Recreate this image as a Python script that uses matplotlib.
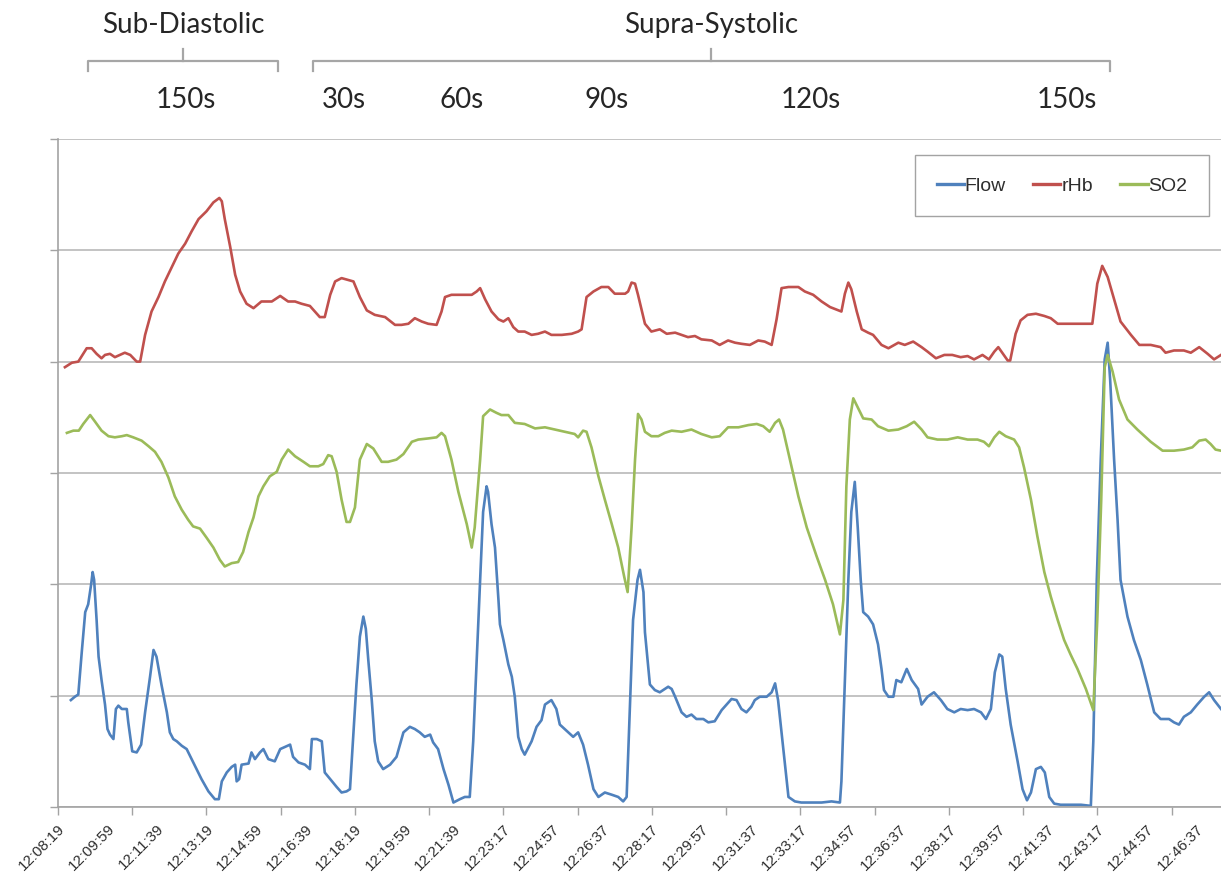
import matplotlib
matplotlib.use("Agg")
import matplotlib.pyplot as plt
import matplotlib.transforms as mtransforms
import numpy as np

# time axis: one sample per second from the start of the recording (12:08:19)
time_labels = [
    "12:08:19", "12:09:59", "12:11:39", "12:13:19", "12:14:59", "12:16:39",
    "12:18:19", "12:19:59", "12:21:39", "12:23:17", "12:24:57", "12:26:37",
    "12:28:17", "12:29:57", "12:31:37", "12:33:17", "12:34:57", "12:36:37",
    "12:38:17", "12:39:57", "12:41:37", "12:43:17", "12:44:57", "12:46:37",
]

# rHb trace
rhb_t = [14, 28, 41, 58, 68, 78, 88, 95, 105, 115, 125, 135, 146, 159, 166, 176, 189, 203, 216, 230,
         243, 257, 270, 284, 300, 314, 326, 331, 337, 348, 358, 368, 381, 395, 411, 432, 449, 465, 479, 492,
         509, 519, 529, 539, 550, 560, 573,
         597, 610, 624, 640, 661, 681, 694, 708, 721, 735, 748, 765, 775, 782, 795, 816, 836, 846, 853, 863,
         876, 890, 900, 910, 920, 930, 943, 957, 970, 984, 997, 1018, 1038, 1051, 1058, 1068, 1082, 1098,
         1112, 1125, 1146, 1152, 1159, 1166,
         1172, 1186, 1199, 1216, 1230, 1247, 1260, 1273, 1287, 1300, 1321, 1337, 1354, 1368, 1381, 1398,
         1415, 1428, 1442, 1452, 1462, 1476, 1496, 1509, 1526, 1543, 1560, 1577, 1583, 1590, 1597, 1603,
         1614, 1624, 1637, 1647, 1664, 1678, 1698, 1711, 1728, 1745,
         1757, 1774, 1791, 1807, 1824, 1838, 1851, 1868, 1881, 1892, 1900, 1908, 1919, 1924, 1935, 1945,
         1959, 1976, 1993, 2006, 2020, 2040, 2060, 2090, 2100, 2110, 2121, 2134, 2147, 2168, 2185, 2208,
         2228, 2238, 2255, 2275, 2289, 2306, 2323, 2336, 2350]
rhb_v = [3.95, 3.99, 4.00, 4.12, 4.12, 4.07, 4.03, 4.06, 4.07, 4.04, 4.06, 4.08, 4.06, 4.00, 4.00, 4.24,
         4.45, 4.58, 4.72, 4.85, 4.97, 5.06, 5.17, 5.28, 5.35, 5.43, 5.47, 5.44, 5.28, 5.03, 4.78, 4.63,
         4.52, 4.48, 4.54, 4.54, 4.59, 4.54, 4.54, 4.52, 4.50, 4.45, 4.40, 4.40, 4.60, 4.72, 4.75,
         4.72, 4.58, 4.46, 4.42, 4.40, 4.33, 4.33, 4.34, 4.39, 4.36, 4.34, 4.33, 4.45, 4.58, 4.60, 4.60,
         4.60, 4.63, 4.66, 4.56, 4.45, 4.38, 4.36, 4.39, 4.31, 4.27, 4.27, 4.24, 4.25, 4.27, 4.24, 4.24,
         4.25, 4.27, 4.29, 4.58, 4.63, 4.67, 4.67, 4.61, 4.61, 4.63, 4.71, 4.70,
         4.60, 4.34, 4.27, 4.29, 4.25, 4.26, 4.24, 4.22, 4.23, 4.20, 4.19, 4.15, 4.19, 4.17, 4.16, 4.15,
         4.19, 4.18, 4.15, 4.38, 4.66, 4.67, 4.67, 4.63, 4.60, 4.54, 4.49, 4.46, 4.45, 4.61, 4.71, 4.65,
         4.45, 4.29, 4.26, 4.24, 4.15, 4.12, 4.17, 4.15, 4.18, 4.13,
         4.09, 4.03, 4.06, 4.06, 4.04, 4.05, 4.02, 4.06, 4.02, 4.09, 4.13, 4.08, 4.01, 4.01, 4.25, 4.37,
         4.42, 4.43, 4.41, 4.39, 4.34, 4.34, 4.34, 4.34, 4.70, 4.86, 4.76, 4.56, 4.36, 4.24, 4.15, 4.15,
         4.13, 4.08, 4.10, 4.10, 4.08, 4.13, 4.07, 4.02, 4.06]

# SO2 trace
so2_t = [18, 31, 42, 51, 65, 75, 88, 102, 115, 129, 139, 152, 169, 183, 196, 209, 223, 236, 250, 263,
         273, 287, 300, 314, 327, 337, 351, 364, 374, 385, 395, 405, 415, 428, 442, 452, 465, 479, 496, 509,
         526, 536, 546, 553, 563, 573, 583,
         590, 600, 610, 624, 637, 654, 667, 684, 698, 715, 728, 748, 765, 775, 782, 795, 809, 826, 836, 842,
         853, 859, 873, 886, 896, 910, 923, 943, 964, 984, 1004, 1024, 1044, 1051, 1061, 1068, 1078, 1092,
         1105, 1119, 1132, 1144, 1151, 1159, 1166, 1172, 1179,
         1186, 1199, 1213, 1226, 1240, 1260, 1280, 1300, 1321, 1337, 1354, 1375, 1395, 1412, 1425, 1438,
         1449, 1457, 1465, 1479, 1496, 1513, 1533, 1550, 1566, 1580, 1587, 1593, 1600, 1607, 1616, 1627,
         1644, 1657, 1678, 1698, 1715, 1730, 1745,
         1757, 1777, 1797, 1818, 1838, 1858, 1871, 1881, 1892, 1902, 1915, 1932, 1942, 1952, 1966, 1979,
         1993, 2006, 2020, 2033, 2046, 2060, 2077, 2092, 2100, 2108, 2115, 2121, 2131, 2144, 2161, 2181,
         2208, 2232, 2255, 2275, 2292, 2306, 2319, 2329, 2339, 2350]
so2_v = [3.36, 3.38, 3.38, 3.44, 3.52, 3.46, 3.38, 3.33, 3.32, 3.33, 3.34, 3.32, 3.29, 3.24, 3.19, 3.10,
         2.96, 2.79, 2.67, 2.58, 2.52, 2.50, 2.42, 2.33, 2.22, 2.16, 2.19, 2.20, 2.29, 2.47, 2.60, 2.79,
         2.88, 2.97, 3.01, 3.12, 3.21, 3.15, 3.10, 3.06, 3.06, 3.08, 3.16, 3.15, 3.01, 2.76, 2.56,
         2.56, 2.69, 3.12, 3.26, 3.22, 3.10, 3.10, 3.12, 3.17, 3.28, 3.30, 3.31, 3.32, 3.36, 3.33, 3.12,
         2.83, 2.54, 2.33, 2.51, 3.12, 3.51, 3.57, 3.54, 3.52, 3.52, 3.45, 3.44, 3.40, 3.41, 3.39, 3.37,
         3.35, 3.32, 3.38, 3.37, 3.23, 2.97, 2.76, 2.54, 2.33, 2.07, 1.93, 2.51, 3.12, 3.53, 3.48,
         3.37, 3.33, 3.33, 3.36, 3.38, 3.37, 3.39, 3.35, 3.32, 3.33, 3.41, 3.41, 3.43, 3.44, 3.42, 3.37,
         3.45, 3.48, 3.39, 3.12, 2.79, 2.51, 2.25, 2.04, 1.82, 1.55, 1.86, 2.88, 3.48, 3.67, 3.59, 3.49,
         3.48, 3.42, 3.38, 3.39, 3.42, 3.46, 3.39,
         3.32, 3.30, 3.30, 3.32, 3.30, 3.30, 3.28, 3.24, 3.32, 3.37, 3.33, 3.30, 3.23, 3.05, 2.76, 2.43,
         2.11, 1.89, 1.68, 1.50, 1.37, 1.24, 1.06, 0.87, 1.68, 2.76, 3.95, 4.06, 3.91, 3.66, 3.48, 3.39,
         3.28, 3.20, 3.20, 3.21, 3.23, 3.29, 3.30, 3.26, 3.21, 3.20]

# Flow trace
flow_t = [26, 34, 41, 48, 55, 61, 67, 70, 73, 78, 82, 88, 95, 100, 105, 112, 117, 122, 129, 139,
          142, 150, 159, 168, 176, 186, 193, 199, 209, 220, 226, 233, 240, 250, 260, 270, 280, 290, 304, 317,
          325, 331, 341, 351, 358, 361, 366, 371, 385, 391, 398, 408, 415, 425, 438, 449, 459, 469, 475, 486,
          499, 509, 513, 523, 533, 539, 550, 563, 573, 583, 590,
          597, 603, 610, 617, 622, 627, 634, 640, 647, 657, 671, 684, 691, 698, 711, 721, 731, 741, 752, 758,
          768, 779, 789, 799, 812, 822, 832, 839, 846, 853, 859, 866, 869, 876, 883, 890, 893, 900, 910, 917,
          923, 930, 937, 943, 957, 967, 977, 984, 997, 1007, 1014, 1031, 1041, 1051, 1061, 1071, 1082, 1092,
          1105, 1119, 1132, 1142, 1149, 1156, 1162, 1171, 1176, 1183,
          1186, 1196, 1206, 1216, 1226, 1233, 1240, 1247, 1260, 1270, 1280, 1290, 1304, 1314, 1327, 1341,
          1351, 1361, 1371, 1381, 1391, 1401, 1408, 1418, 1432, 1442, 1449, 1455, 1462, 1469, 1476, 1489,
          1502, 1523, 1543, 1563, 1580, 1583, 1590, 1597, 1603, 1610, 1616, 1622, 1627, 1637, 1647, 1657,
          1664, 1669, 1678, 1688, 1694, 1704, 1715, 1725, 1738, 1745,
          1757, 1770, 1784, 1797, 1811, 1824, 1838, 1851, 1865, 1875, 1885, 1893, 1902, 1908, 1915, 1925,
          1939, 1949, 1958, 1966, 1976, 1986, 1994, 2003, 2013, 2026, 2046, 2067, 2087, 2092, 2099, 2107,
          2115, 2121, 2126, 2134, 2141, 2147, 2161, 2174, 2188, 2201, 2215, 2228, 2245, 2255, 2265, 2275,
          2289, 2302, 2316, 2326, 2336, 2350]
flow_v = [0.96, 0.99, 1.01, 1.39, 1.75, 1.82, 2.00, 2.11, 2.04, 1.68, 1.35, 1.14, 0.92, 0.70, 0.65, 0.61,
          0.88, 0.91, 0.88, 0.88, 0.76, 0.50, 0.49, 0.56, 0.85, 1.17, 1.41, 1.35, 1.10, 0.85, 0.67, 0.61,
          0.59, 0.55, 0.52, 0.43, 0.34, 0.25, 0.14, 0.07, 0.07, 0.23, 0.31, 0.36, 0.38, 0.23, 0.25, 0.38,
          0.39, 0.49, 0.43, 0.49, 0.52, 0.43, 0.41, 0.52, 0.54, 0.56, 0.45, 0.40, 0.38, 0.34, 0.61, 0.61,
          0.59, 0.31, 0.25, 0.18, 0.13, 0.14, 0.16,
          0.67, 1.10, 1.53, 1.71, 1.60, 1.32, 0.96, 0.59, 0.41, 0.34, 0.38, 0.45, 0.56, 0.67, 0.72, 0.70,
          0.67, 0.63, 0.65, 0.58, 0.52, 0.34, 0.20, 0.04, 0.07, 0.09, 0.09, 0.59, 1.32, 2.04, 2.65, 2.88,
          2.83, 2.54, 2.33, 1.86, 1.64, 1.50, 1.28, 1.17, 0.99, 0.63, 0.52, 0.47, 0.59, 0.72, 0.78, 0.92,
          0.96, 0.88, 0.74, 0.67, 0.63, 0.67, 0.56, 0.38, 0.16, 0.09, 0.13, 0.11, 0.09, 0.05, 0.09, 0.96,
          1.68, 2.04, 2.13, 1.93,
          1.57, 1.10, 1.05, 1.03, 1.06, 1.08, 1.06, 0.99, 0.85, 0.81, 0.83, 0.79, 0.79, 0.76, 0.77, 0.87,
          0.92, 0.97, 0.96, 0.88, 0.85, 0.90, 0.96, 0.99, 0.99, 1.03, 1.11, 0.96, 0.67, 0.38, 0.09, 0.05,
          0.04, 0.04, 0.04, 0.05, 0.04, 0.23, 1.14, 2.04, 2.65, 2.92, 2.51, 2.04, 1.75, 1.71, 1.64, 1.46,
          1.24, 1.05, 0.99, 0.99, 1.14, 1.12, 1.24, 1.14, 1.06, 0.92,
          0.99, 1.03, 0.96, 0.88, 0.85, 0.88, 0.87, 0.88, 0.85, 0.79, 0.88, 1.21, 1.37, 1.35, 1.06, 0.74,
          0.41, 0.16, 0.06, 0.13, 0.34, 0.36, 0.31, 0.09, 0.03, 0.02, 0.02, 0.02, 0.01, 0.59, 2.04, 3.12,
          4.02, 4.17, 3.84, 3.12, 2.58, 2.04, 1.71, 1.50, 1.32, 1.10, 0.85, 0.79, 0.79, 0.76, 0.74, 0.81,
          0.85, 0.92, 0.99, 1.03, 0.96, 0.88]

# cuff protocol annotations (seconds on the same time axis)
phase_spans = [("Sub-Diastolic", 61, 444), ("Supra-Systolic", 515, 2125)]
occlusion_marks = [(259, "150s"), (578, "30s"), (816, "60s"), (1109, "90s"), (1521, "120s"), (2038, "150s")]

BLUE, RED, GREEN = "#4F81BD", "#C0504D", "#9BBB59"
GRID = "#b9b9b9"
AXIS = "#a3a3a3"

fig = plt.figure(figsize=(12.21, 8.79), dpi=100)
ax = fig.add_axes([0.0475, 0.0808, 0.9525, 0.7600])

lw = 1.9
ax.plot(flow_t, flow_v, color=BLUE, lw=lw, solid_joinstyle="round", label="Flow")
ax.plot(rhb_t, rhb_v, color=RED, lw=lw, solid_joinstyle="round", label="rHb")
ax.plot(so2_t, so2_v, color=GREEN, lw=lw, solid_joinstyle="round", label="SO2")

ax.set_xlim(0, 2350)
ax.set_ylim(0, 6)

# y: gridlines only, no labels
ax.set_yticks(np.arange(0, 7))
ax.set_yticklabels([])
ax.grid(axis="y", color=GRID, lw=1.2)
ax.tick_params(axis="y", length=6, width=1.0, color=AXIS)

# x: tick marks every 150 s, labels every 100 s
ax.xaxis.remove_overlapping_locs = False
ax.set_xticks(np.arange(0, 2351, 150))
ax.set_xticks(np.arange(0, 2301, 100), labels=time_labels, minor=True)
ax.tick_params(axis="x", which="major", length=6, width=1.0, color=AXIS, labelbottom=False)
ax.tick_params(axis="x", which="minor", length=0, pad=10, labelsize=10.8, labelcolor="#2e2e2e")
for lab in ax.get_xticklabels(minor=True):
    lab.set_rotation(45)
    lab.set_ha("right")
    lab.set_va("top")
    lab.set_rotation_mode("anchor")
    lab.set_fontfamily("Liberation Sans")

for side in ("top", "right"):
    ax.spines[side].set_visible(False)
for side in ("left", "bottom"):
    ax.spines[side].set_color(AXIS)
    ax.spines[side].set_linewidth(1.2)

leg = ax.legend(loc="center", bbox_to_anchor=(0.8698, 0.7878), bbox_transform=fig.transFigure,
                ncol=3, frameon=True, fancybox=False, handlelength=1.4, handletextpad=0.05,
                columnspacing=1.4, borderpad=1.1, prop={"family": "Liberation Sans", "size": 14})
leg.get_frame().set_edgecolor("#8c8c8c")
leg.get_frame().set_linewidth(1.0)
for txt in leg.get_texts():
    txt.set_color("#2e2e2e")
for line in leg.get_lines():
    line.set_linewidth(2.4)

# brackets and labels above the plot: x in seconds, y in figure fraction
top = mtransforms.blended_transform_factory(ax.transData, fig.transFigure)
y_bar, y_end, y_tick = 0.9295, 0.918, 0.943
for name, t0, t1 in phase_spans:
    tc = (t0 + t1) / 2
    ax.plot([t0, t0, t1, t1], [y_end, y_bar, y_bar, y_end], transform=top, clip_on=False,
            color="#a6a6a6", lw=1.6, solid_joinstyle="round")
    ax.plot([tc, tc], [y_bar, y_tick], transform=top, clip_on=False, color="#a6a6a6", lw=1.6)
    ax.text(tc, 0.9625, name, transform=top, ha="center", va="baseline",
            fontsize=20, family="Lato", color="#262626")
for tm, txt in occlusion_marks:
    ax.text(tm, 0.8771, txt, transform=top, ha="center", va="baseline",
            fontsize=20, family="Lato", color="#262626")

fig.savefig("out.png", dpi=100)
